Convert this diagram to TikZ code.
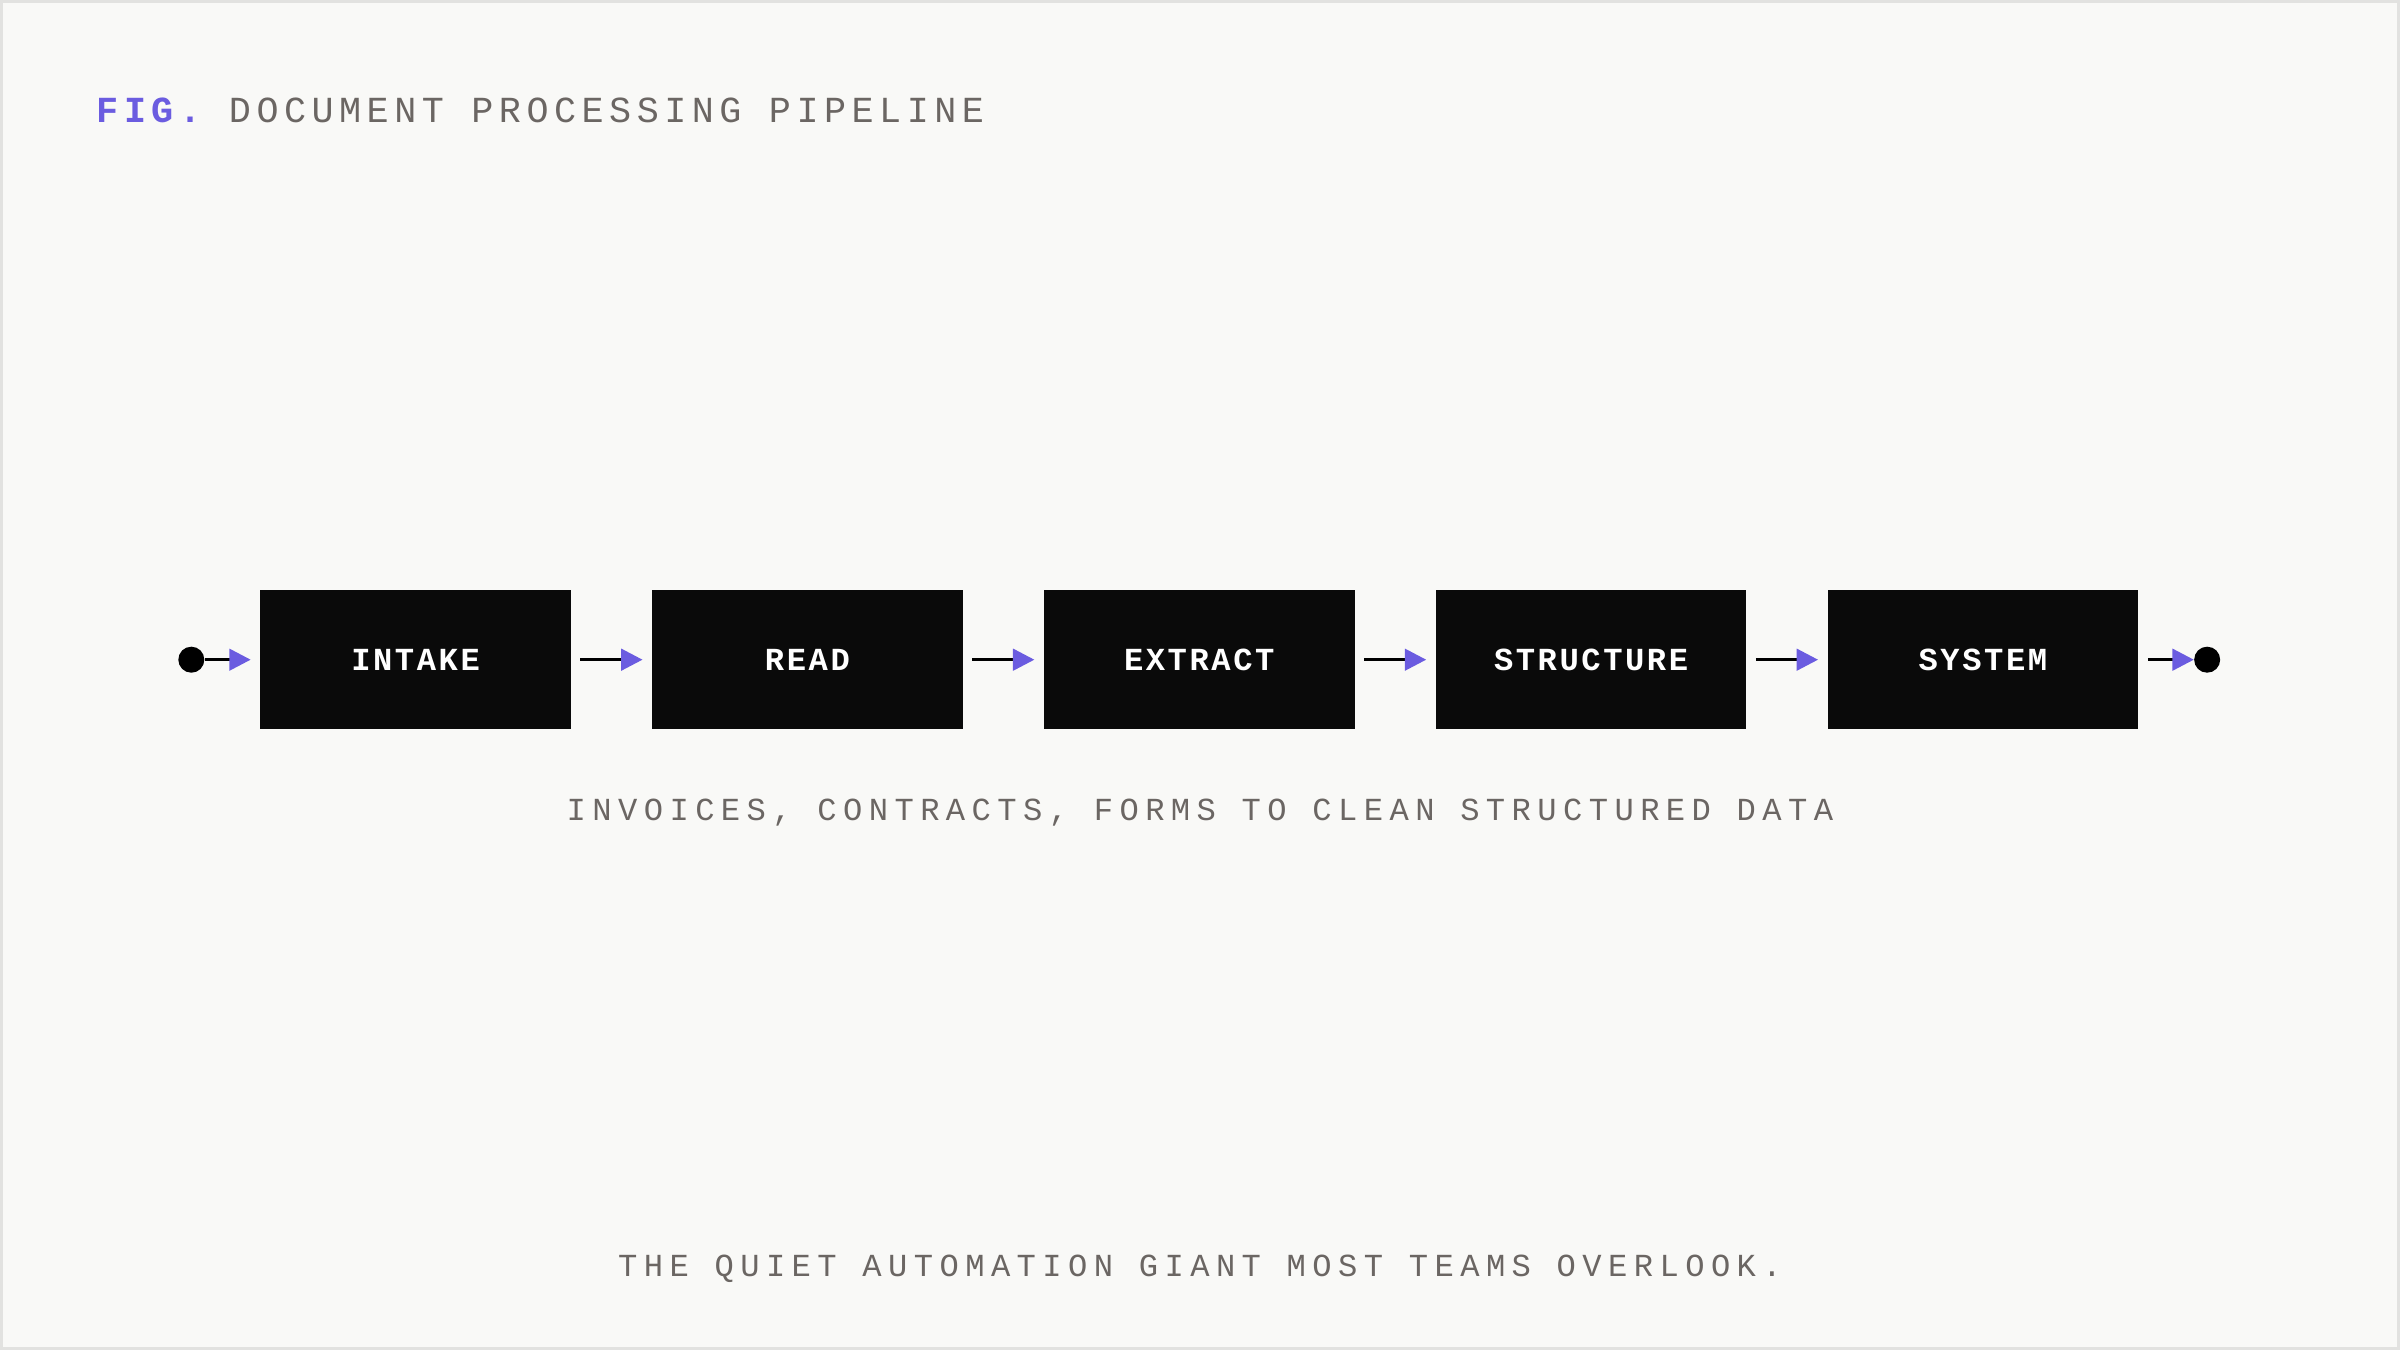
\documentclass[tikz,border=0pt]{standalone}
\usepackage{fontspec}
\setmonofont{Liberation Mono}
\usetikzlibrary{arrows.meta}
\definecolor{bg}{HTML}{F9F9F7}
\definecolor{frame}{HTML}{E2E2E0}
\definecolor{txtgray}{HTML}{6B6663}
\definecolor{accent}{HTML}{6B5CE0}
\definecolor{boxblk}{HTML}{0A0A0A}
\newfontfamily\titlefont[LetterSpace=15]{Liberation Mono}
\newfontfamily\subfont[LetterSpace=20]{Liberation Mono}
\newfontfamily\boxfont[LetterSpace=8]{Liberation Mono}
\tikzset{
  stagebox/.style={fill=boxblk,minimum width=203pt,minimum height=91pt,inner sep=0pt,text=white,font=\boxfont\bfseries\fontsize{21}{21}\selectfont},
  flow/.style={line width=2.2pt,-{Triangle[length=14pt,width=14pt,color=accent,fill=accent]}},
  enddot/.style={circle,fill=black,minimum size=17pt,inner sep=0pt},
  graytext/.style={text=txtgray,inner sep=0pt}
}
\begin{document}
\begin{tikzpicture}[x=1pt,y=-1pt]
\fill[frame] (0,0) rectangle (1568,882);
\fill[bg] (2,2) rectangle (1566,880);
\useasboundingbox (0,0) rectangle (1568,882);
\node[anchor=west,inner sep=0pt] (title) at (63,72) {\titlefont\fontsize{24}{24}\selectfont\textcolor{accent}{\bfseries FIG.} \textcolor{txtgray}{DOCUMENT PROCESSING PIPELINE}};
\node[stagebox] (b1) at (271.5,431) {INTAKE};
\node[stagebox] (b2) at (527.5,431) {READ};
\node[stagebox] (b3) at (783.5,431) {EXTRACT};
\node[stagebox] (b4) at (1039.5,431) {STRUCTURE};
\node[stagebox] (b5) at (1295.5,431) {SYSTEM};
\node[enddot] (s) at (125,431) {};
\node[enddot] (e) at (1442,431) {};
\draw[flow] (s.east) -- ([xshift=-6pt]b1.west);
\foreach \a/\b in {b1/b2,b2/b3,b3/b4,b4/b5}
  \draw[flow] ([xshift=6pt]\a.east) -- ([xshift=-6pt]\b.west);
\draw[flow] ([xshift=6pt]b5.east) -- (e.west);
\node[graytext] (sub) at (784,531) {\subfont\fontsize{21}{21}\selectfont INVOICES, CONTRACTS, FORMS TO CLEAN STRUCTURED DATA};
\node[graytext] (foot) at (784,829) {\subfont\fontsize{21}{21}\selectfont THE QUIET AUTOMATION GIANT MOST TEAMS OVERLOOK.};
\end{tikzpicture}
\end{document}
